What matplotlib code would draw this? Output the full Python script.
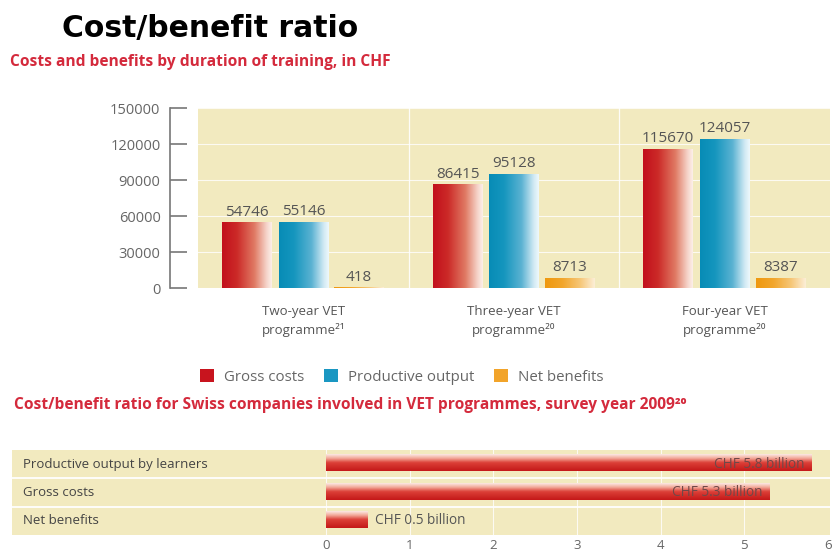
import matplotlib
matplotlib.use("Agg")
import matplotlib.pyplot as plt
import numpy as np
from matplotlib.colors import LinearSegmentedColormap
from matplotlib.patches import Patch
from matplotlib.transforms import blended_transform_factory


# top chart data
programmes = ["Two-year VET\nprogramme²¹", "Three-year VET\nprogramme²⁰", "Four-year VET\nprogramme²⁰"]
series_names = ["Gross costs", "Productive output", "Net benefits"]
gross_costs = [54746, 86415, 115670]
productive_output = [55146, 95128, 124057]
net_benefits = [418, 8713, 8387]
y_ticks = [0, 30000, 60000, 90000, 120000, 150000]

# bottom chart data
ratio_labels = ["Productive output by learners", "Gross costs", "Net benefits"]
ratio_values = [5.8, 5.3, 0.5]
ratio_texts = ["CHF 5.8 billion", "CHF 5.3 billion", "CHF 0.5 billion"]
ratio_ticks = [0, 1, 2, 3, 4, 5, 6]

BG = "#f2eabf"
RED_TXT = "#d42a3c"
GRAY = "#666666"
LEGEND_COLORS = ["#c8141e", "#1a97c2", "#f2a42a"]

plt.rcParams["font.family"] = ["Open Sans", "DejaVu Sans"]

cmap_red = LinearSegmentedColormap.from_list(
    "red", [(0, "#c2101c"), (0.3, "#cc2a28"), (0.65, "#e07a64"), (0.9, "#f6d6cc"), (1, "#fcf0ea")])
cmap_blue = LinearSegmentedColormap.from_list(
    "blue", [(0, "#078cb6"), (0.3, "#1596be"), (0.65, "#5ab2d2"), (0.9, "#d2eaf4"), (1, "#eef8fc")])
cmap_orange = LinearSegmentedColormap.from_list(
    "orange", [(0, "#ef980e"), (0.35, "#f2a62c"), (0.7, "#f6c676"), (1, "#fcefd8")])
cmap_hbar = LinearSegmentedColormap.from_list(
    "hbar", [(0, "#fcece6"), (0.25, "#f2a898"), (0.5, "#dc4038"), (1, "#c41818")])

GRAD = np.linspace(0, 1, 256)


def fill_gradient(ax, bar, cmap, vertical=False):
    x0, y0 = bar.get_x(), bar.get_y()
    w, h = bar.get_width(), bar.get_height()
    data = GRAD[:, None] if vertical else GRAD[None, :]
    im = ax.imshow(data, cmap=cmap, extent=(x0, x0 + w, y0, y0 + h),
                   origin="upper", aspect="auto", zorder=3, interpolation="bicubic")
    im.set_clip_path(bar)


fig = plt.figure(figsize=(8.35, 5.55), dpi=100)

fig.text(210 / 835, 1 - 28 / 555, "Cost/benefit ratio", ha="center", va="center",
         fontsize=21.5, fontweight="bold", family=["DejaVu Sans"], color="black")
fig.text(10 / 835, 1 - 62 / 555, "Costs and benefits by duration of training, in CHF",
         ha="left", va="center", fontsize=11.2, fontweight="bold", color=RED_TXT)

# ---- grouped bars
ax1 = fig.add_axes([198 / 835, 1 - 288 / 555, 632 / 835, 180 / 555])
ax1.set_facecolor(BG)
x = np.arange(len(programmes))
offsets = [-0.268, 0.0, 0.265]
width = 0.235
cmaps = [cmap_red, cmap_blue, cmap_orange]
for vals, off, cm in zip([gross_costs, productive_output, net_benefits], offsets, cmaps):
    bars = ax1.bar(x + off, vals, width, color="none", zorder=3)
    for bar, v in zip(bars, vals):
        fill_gradient(ax1, bar, cm)
        ax1.annotate(str(v), (bar.get_x() + bar.get_width() / 2, v), xytext=(0, 2),
                     textcoords="offset points", ha="center", va="bottom",
                     fontsize=11, color="#555555", zorder=4)

ax1.set_xlim(-0.5, 2.5)
ax1.set_ylim(0, 150000)
ax1.set_yticks(y_ticks)
ax1.set_yticklabels([str(t) for t in y_ticks])
ax1.set_xticks(x)
ax1.set_xticklabels(programmes, fontsize=9.5, color="#555555", linespacing=1.5)
ax1.tick_params(axis="x", length=0, pad=12)
ax1.tick_params(axis="y", direction="in", length=12, width=1.2, color="#777777",
                labelsize=10.5, labelcolor=GRAY, pad=7)
for side in ["top", "right", "bottom"]:
    ax1.spines[side].set_visible(False)
ax1.spines["left"].set_position(("outward", 20))
ax1.spines["left"].set_color("#777777")
ax1.spines["left"].set_linewidth(1.2)
ax1.grid(axis="y", color="white", linewidth=0.8, alpha=0.8, zorder=1)
for d in [0.5, 1.5]:
    ax1.axvline(d, color="white", linewidth=0.9, alpha=0.9, zorder=1)

handles = [Patch(facecolor=c, edgecolor="none") for c in LEGEND_COLORS]
fig.legend(handles, series_names, loc="center", bbox_to_anchor=(402 / 835, 1 - 377 / 555),
           ncol=3, frameon=False, fontsize=10.8, handlelength=0.9, handleheight=0.9,
           handletextpad=0.7, columnspacing=1.3, labelcolor=GRAY)

fig.text(14 / 835, 1 - 405 / 555,
         "Cost/benefit ratio for Swiss companies involved in VET programmes, survey year 2009²⁰",
         ha="left", va="center", fontsize=11.2, fontweight="bold", color=RED_TXT)

# ---- horizontal bars
ax2 = fig.add_axes([12 / 835, 1 - 535 / 555, 818 / 835, 85 / 555])
ax2.set_facecolor(BG)
rows = np.arange(len(ratio_labels))[::-1]
hbars = ax2.barh(rows + 0.05, ratio_values, height=0.6, color="none", zorder=3)
for bar in hbars:
    fill_gradient(ax2, bar, cmap_hbar, vertical=True)

ax2.set_xlim(-3.753, 6.024)
ax2.set_ylim(-0.5, 2.5)
trans = blended_transform_factory(ax2.transAxes, ax2.transData)
for r, lab in zip(rows, ratio_labels):
    ax2.text(0.013, r, lab, transform=trans, ha="left", va="center",
             fontsize=9.5, color="#444444")
for r, v, t in zip(rows, ratio_values, ratio_texts):
    if v > 1:
        ax2.text(v - 0.08, r, t, ha="right", va="center", fontsize=9.8,
                 color="#704848", zorder=4)
    else:
        ax2.text(v + 0.08, r, t, ha="left", va="center", fontsize=9.8,
                 color="#555555", zorder=4)
for r in [0.5, 1.5]:
    ax2.axhline(r, color="white", linewidth=1.3, zorder=2)
for t in ratio_ticks[:-1]:
    ax2.axvline(t, color="white", linewidth=0.8, alpha=0.8, zorder=1)

ax2.set_xticks(ratio_ticks)
ax2.set_xticklabels([str(t) for t in ratio_ticks])
ax2.set_yticks([])
ax2.tick_params(axis="x", length=0, pad=3, labelsize=9.5, labelcolor=GRAY)
for side in ax2.spines:
    ax2.spines[side].set_visible(False)

fig.savefig("out.png", dpi=100, facecolor="white")
